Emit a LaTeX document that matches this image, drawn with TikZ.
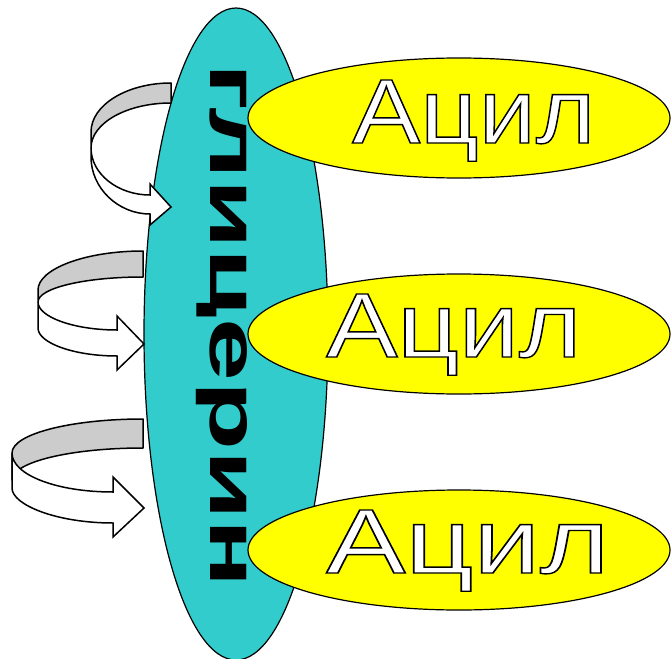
\documentclass[tikz,border=0pt]{standalone}
\usepackage{fontspec}
\setmainfont{Liberation Sans}
\usetikzlibrary{shapes.geometric}
\definecolor{tealc}{HTML}{33CCCC}
\definecolor{yelc}{HTML}{FFFF00}
\definecolor{gryc}{HTML}{CCCCCC}
\newcommand{\outlinetext}[2]{\special{pdf:literal direct 2 Tr 1.3 w 1 1 1 rg 0 0 0 RG}\resizebox{#1}{63pt}{\fontsize{88pt}{90pt}\selectfont #2}\special{pdf:literal direct 0 Tr 0 0 0 rg 0 0 0 RG}}
\tikzset{
  bigell/.style={draw=black, fill=tealc, ellipse, inner sep=0pt, line width=1.2pt},
  acylell/.style={draw=black, fill=yelc, ellipse, inner sep=0pt, line width=1.2pt, minimum width=422pt, minimum height=120pt},
  acyltext/.style={anchor=base west, inner sep=0pt},
  backband/.style={draw=black, fill=gryc, line width=1.5pt, line join=round},
  frontband/.style={draw=black, fill=white, line width=1.5pt, line join=miter}
}
\begin{document}
\begin{tikzpicture}[x=1pt,y=-1pt]
\useasboundingbox (0,0) rectangle (671,658);
\fill[white] (0,0) rectangle (671,658);
% glycerol ellipse
\node[bigell, minimum width=184pt, minimum height=652pt] (gly) at (236,334) {};
\node[rotate=-90, anchor=base west, inner sep=0pt] (glytext) at (210,63) {\resizebox{524pt}{37pt}{\bfseries глицерин}};
% acyl ellipses
\node[acylell] (acyl1) at (459,118) {};
\node[acylell] (acyl2) at (459,334) {};
\node[acylell] (acyl3) at (459,550) {};
\node[acyltext] (acyltext1) at (352,143) {\outlinetext{243pt}{Ацил}};
\node[acyltext] (acyltext2) at (326,357) {\outlinetext{255pt}{Ацил}};
\node[acyltext] (acyltext3) at (326,573) {\outlinetext{283pt}{Ацил}};
% arrow 1
\draw[backband] (171,83) .. controls (127,83) and (91,105) .. (91,132) -- (91,148) .. controls (91,123) and (127,103) .. (171,103) -- cycle;
\draw[frontband] (91,148) .. controls (91,174) and (118,195) .. (150,195) -- (150,184) -- (171,207) -- (150,225) -- (150,214) .. controls (118,214) and (91,188) .. (91,157) -- cycle;
% arrow 2
\draw[backband] (143,251) .. controls (85,251) and (38,269) .. (38,290) -- (38,302) .. controls (38,288) and (85,277) .. (143,277) -- cycle;
\draw[frontband] (38,302) .. controls (38,317) and (74,330) .. (117,330) -- (117,316) -- (144,344) -- (117,370) -- (117,356) .. controls (74,356) and (38,343) .. (38,328) -- cycle;
% arrow 3
\draw[backband] (143,419) .. controls (71,419) and (12,434) .. (12,453) -- (12,480) .. controls (12,462) and (71,448) .. (143,448) -- cycle;
\draw[frontband] (12,453) .. controls (12,475) and (57,492) .. (113,492) -- (113,477) -- (144,508) -- (113,537) -- (113,523) .. controls (57,523) and (12,505) .. (12,488) -- cycle;
\end{tikzpicture}
\end{document}
